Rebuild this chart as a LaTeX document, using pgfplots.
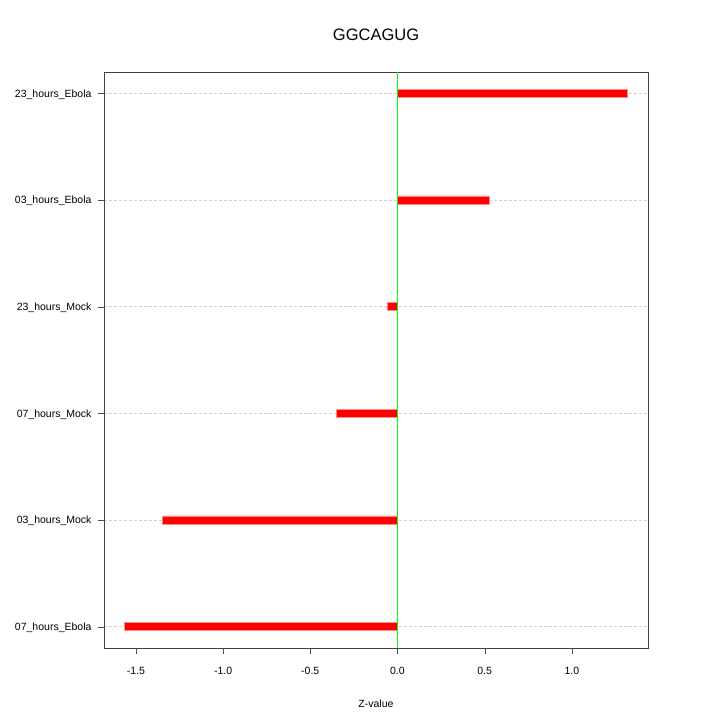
\documentclass[border=0pt]{standalone}
\usepackage{pgfplots}
\pgfplotsset{compat=1.18}
\usepackage{fontspec}
\setmainfont{Liberation Sans}
\definecolor{zline}{RGB}{100,235,100}

\begin{document}
\begin{tikzpicture}
\begin{axis}[
    name=ax, at={(0pt,0pt)}, anchor=south west,
    scale only axis, width=544pt, height=576pt,
    xmin=-1.683, xmax=1.437,
    ymin=0.8, ymax=6.2,
    xtick={-1.5,-1,-0.5,0,0.5,1},
    xticklabel style={/pgf/number format/fixed,/pgf/number format/fixed zerofill,/pgf/number format/precision=1},
    /pgf/number format/assume math mode=true,
    ytick={1,2,3,4,5,6},
    yticklabels={07\_hours\_Ebola,03\_hours\_Mock,07\_hours\_Mock,23\_hours\_Mock,03\_hours\_Ebola,23\_hours\_Ebola},
    tick label style={font=\fontsize{10.5}{12}\selectfont},
    tick align=outside, tick pos=left,
    major tick length=6pt,
    tick style={black!70},
    xticklabel style={yshift=-10pt},
    yticklabel style={xshift=-3pt, yshift=-1pt},
    axis line style={black!75},
    ymajorgrids, grid style={densely dashed, black!18, line width=0.4pt},
    title={GGCAGUG},
    title style={font=\fontsize{16.5}{18}\selectfont, at={(0.5,1)}, yshift=22pt},
    xlabel={Z-value},
    xlabel style={font=\fontsize{10.5}{12}\selectfont, yshift=-18pt},
]
\addplot[xbar, bar width=8pt, bar shift=0pt, fill=red, draw=red!45, line width=0.6pt] coordinates {
    (-1.568,1) (-1.347,2) (-0.350,3) (-0.060,4) (0.527,5) (1.321,6)
};
\addplot[draw=green, line width=1.5pt, mark=none, sharp plot] table {
x y
0 0.8
0 6.2
};
\end{axis}
\path (ax.south west) ++(-104pt,-72pt) rectangle ++(720pt,720pt);
\end{tikzpicture}
\end{document}
